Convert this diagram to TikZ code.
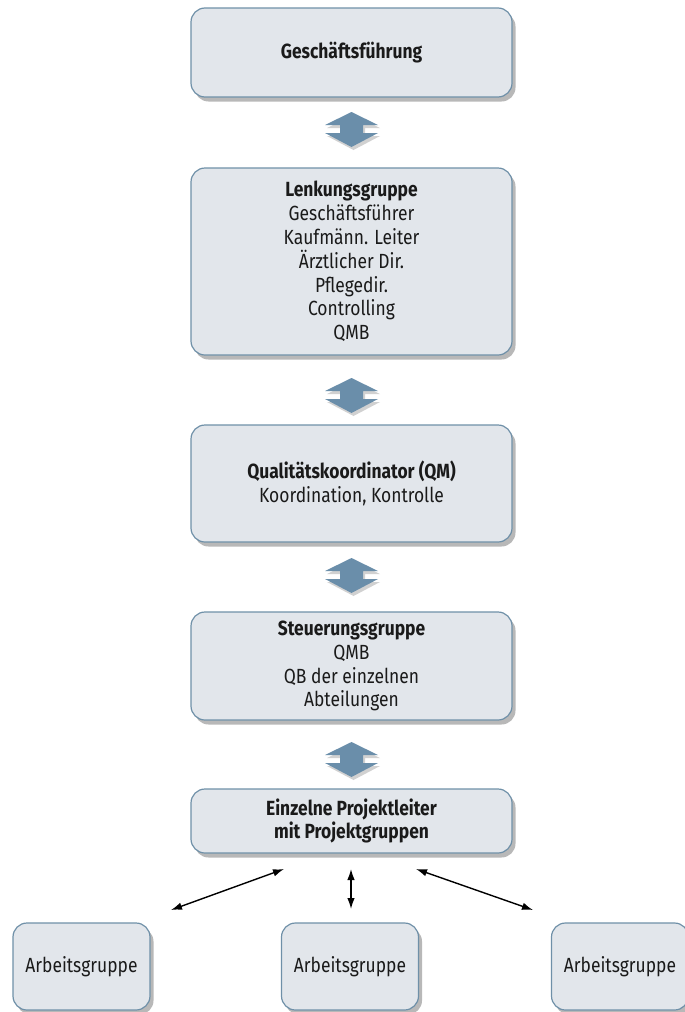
\documentclass[tikz,border=0pt]{standalone}
\usepackage{fontspec}
\setmainfont{Fira Sans}[FakeStretch=0.85]
\usetikzlibrary{shadows,arrows.meta}
\definecolor{boxfill}{HTML}{E2E6EB}
\definecolor{boxline}{HTML}{6F90A8}
\definecolor{arrowfill}{HTML}{6A8EAA}
\definecolor{textcol}{HTML}{1A1A1A}
\tikzset{
  orgbox/.style={draw=boxline, line width=1.2pt, fill=boxfill, rounded corners=14pt,
    align=center, text=textcol, inner sep=0pt,
    font=\fontsize{20.5}{23.8}\selectfont,
    drop shadow={shadow xshift=3.5pt, shadow yshift=-4.5pt, fill=black, opacity=0.28}},
  mainbox/.style={orgbox, minimum width=321pt},
  workbox/.style={orgbox, minimum width=137pt, minimum height=87pt},
  thinarrow/.style={{Latex[length=11pt,width=7.5pt]}-{Latex[length=11pt,width=7.5pt]}, line width=1.4pt, black},
  dblarrow/.pic={
    \fill[black, opacity=0.18] (2,3) -- (28.5,16) -- (13.5,16) -- (13.5,24) -- (28.5,24) -- (2,38) -- (-24.5,24) -- (-9.5,24) -- (-9.5,16) -- (-24.5,16) -- cycle;
    \fill[arrowfill] (0,0) -- (26.5,13) -- (11.5,13) -- (11.5,21) -- (26.5,21) -- (0,35) -- (-26.5,21) -- (-11.5,21) -- (-11.5,13) -- (-26.5,13) -- cycle;
  }
}
\begin{document}
\begin{tikzpicture}[x=1pt,y=-1pt]
\useasboundingbox (0,0) rectangle (685,1012);

\node[mainbox, minimum height=89pt] (gf) at (351.5,52.5) {\textbf{Geschäftsführung}};
\node[mainbox, minimum height=187pt] (lg) at (351.5,261.5) {\textbf{Lenkungsgruppe}\\Geschäftsführer\\Kaufmänn. Leiter\\Ärztlicher Dir.\\Pflegedir.\\Controlling\\QMB};
\node[mainbox, minimum height=117pt] (qk) at (351.5,483.5) {\textbf{Qualitätskoordinator (QM)}\\Koordination, Kontrolle};
\node[mainbox, minimum height=108pt] (sg) at (351.5,666) {\textbf{Steuerungsgruppe}\\QMB\\QB der einzelnen\\Abteilungen};
\node[mainbox, minimum height=64pt] (pl) at (351.5,821) {\textbf{Einzelne Projektleiter}\\\textbf{mit Projektgruppen}};

\pic at (351.5,112) {dblarrow};
\pic at (351.5,378) {dblarrow};
\pic at (351.5,558) {dblarrow};
\pic at (351.5,742) {dblarrow};

\node[workbox] (ag1) at (81.5,966.5) {Arbeitsgruppe};
\node[workbox] (ag2) at (350,966.5) {Arbeitsgruppe};
\node[workbox] (ag3) at (620,966.5) {Arbeitsgruppe};

\coordinate (l1) at (284,869);
\coordinate (l2) at (171,910);
\coordinate (m1) at (351,869);
\coordinate (m2) at (351,909);
\coordinate (r1) at (416,869);
\coordinate (r2) at (533,910);
\draw[thinarrow] (l1) -- (l2);
\draw[thinarrow] (m1) -- (m2);
\draw[thinarrow] (r1) -- (r2);
\end{tikzpicture}
\end{document}
